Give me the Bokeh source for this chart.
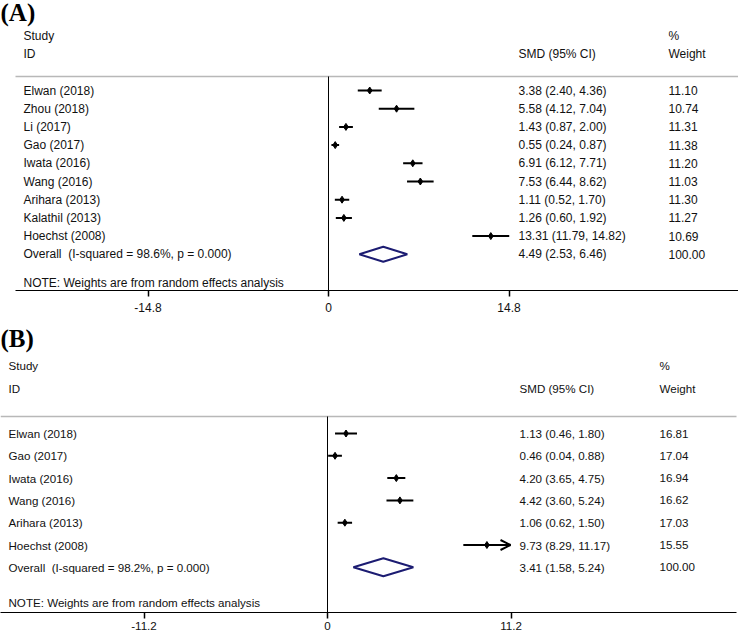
import numpy as np
from bokeh.plotting import figure
from bokeh.layouts import column
from bokeh.models import ColumnDataSource, Range1d, FixedTicker, Arrow, OpenHead
from bokeh.core.properties import value
from bokeh.embed import file_html
from bokeh.resources import INLINE

# ---------------- data ----------------
studies_a = ["Elwan (2018)", "Zhou (2018)", "Li (2017)", "Gao (2017)", "Iwata (2016)",
             "Wang (2016)", "Arihara (2013)", "Kalathil (2013)", "Hoechst (2008)"]
smd_a = [3.38, 5.58, 1.43, 0.55, 6.91, 7.53, 1.11, 1.26, 13.31]
lo_a = [2.40, 4.12, 0.87, 0.24, 6.12, 6.44, 0.52, 0.60, 11.79]
hi_a = [4.36, 7.04, 2.00, 0.87, 7.71, 8.62, 1.70, 1.92, 14.82]
wt_a = ["11.10", "10.74", "11.31", "11.38", "11.20", "11.03", "11.30", "11.27", "10.69"]
overall_a = (4.49, 2.53, 6.46)
overall_label_a = "Overall\u00a0\u00a0(I-squared = 98.6%, p = 0.000)"
ticks_a = [-14.8, 0, 14.8]
tick_labels_a = ["-14.8", "0", "14.8"]
arrow_a = [False] * 9

studies_b = ["Elwan (2018)", "Gao (2017)", "Iwata (2016)", "Wang (2016)",
             "Arihara (2013)", "Hoechst (2008)"]
smd_b = [1.13, 0.46, 4.20, 4.42, 1.06, 9.73]
lo_b = [0.46, 0.04, 3.65, 3.60, 0.62, 8.29]
hi_b = [1.80, 0.88, 4.75, 5.24, 1.50, 11.17]
wt_b = ["16.81", "17.04", "16.94", "16.62", "17.03", "15.55"]
overall_b = (3.41, 1.58, 5.24)
overall_label_b = "Overall\u00a0\u00a0(I-squared = 98.2%, p = 0.000)"
ticks_b = [-11.2, 0, 11.2]
tick_labels_b = ["-11.2", "0", "11.2"]
arrow_b = [False, False, False, False, False, True]

FONT = "Liberation Sans"
NAVY = "#1c1c72"
W = 738


def panel(tag, studies, smd, lo, hi, wt, overall, overall_label, ticks, tick_labels, arrows,
          geo):
    zero_px, scale = geo["zero_px"], geo["scale"]

    def px(p):
        return (p - zero_px) / scale

    fig_h = geo["fig_h"]
    top, bottom = geo["frame_top"], geo["frame_bottom"]
    p = figure(width=W, height=fig_h, output_backend="svg", toolbar_location=None,
               x_range=Range1d(px(0), px(W)),
               y_range=Range1d(bottom, top), y_axis_location=None,
               min_border_left=0, min_border_right=0, min_border_top=0,
               min_border_bottom=geo["border_bottom"])
    p.grid.visible = False
    p.outline_line_color = None
    p.background_fill_color = "white"
    p.border_fill_color = "white"

    fs = geo["fs"]
    n = len(studies)
    ys = geo["row0"] + geo["step"] * np.arange(n)
    y_over = geo["row0"] + geo["step"] * n

    # header
    x_study = px(geo["x_study"])
    x_smd = px(geo["x_smd"])
    x_wt = px(geo["x_wt"])
    p.text(x=[px(0)], y=[geo["tag_y"]], text=[tag],
           text_font=value("Liberation Serif"), text_font_style="bold",
           text_font_size="25px", text_baseline="middle", text_align="left", text_color="black")
    p.text(x=[x_study, x_study, x_smd, x_wt, x_wt],
           y=[geo["h1"], geo["h2"], geo["h2"], geo["h1"], geo["h2"]],
           text=["Study", "ID", "SMD (95% CI)", "%", "Weight"],
           text_font=value(FONT), text_font_size=fs, text_baseline="middle",
           text_align="left", text_color="#111111")

    # separator line and zero line
    p.segment(x0=[px(geo["line_left"])], x1=[px(geo["line_right"])],
              y0=[geo["sep"]], y1=[geo["sep"]], line_color="#b8b8b8", line_width=1.5)
    p.segment(x0=[0], x1=[0], y0=[geo["sep"]], y1=[bottom], line_color="black", line_width=1)

    # rows text
    ci_txt = ["%.2f (%.2f, %.2f)" % (a, b, c) for a, b, c in zip(smd, lo, hi)]
    p.text(x=[x_study] * (n + 2), y=list(ys) + [y_over, geo["note"]],
           text=list(studies) + [overall_label, "NOTE: Weights are from random effects analysis"],
           text_font=value(FONT), text_font_size=fs, text_baseline="middle",
           text_align="left", text_color="#111111")
    p.text(x=[x_smd] * (n + 1), y=list(ys) + [y_over],
           text=ci_txt + ["%.2f (%.2f, %.2f)" % overall],
           text_font=value(FONT), text_font_size=fs, text_baseline="middle",
           text_align="left", text_color="#111111")
    p.text(x=[x_wt] * (n + 1), y=list(ys) + [y_over], text=list(wt) + ["100.00"],
           text_font=value(FONT), text_font_size=fs, text_baseline="middle",
           text_align="left", text_color="#111111")

    # CIs
    seg_idx = [i for i in range(n) if not arrows[i]]
    arr_idx = [i for i in range(n) if arrows[i]]
    p.segment(x0=[lo[i] for i in seg_idx], x1=[hi[i] for i in seg_idx],
              y0=[ys[i] for i in seg_idx], y1=[ys[i] for i in seg_idx],
              line_color="black", line_width=2)
    if arr_idx:
        src = ColumnDataSource(dict(x0=[lo[i] for i in arr_idx], x1=[hi[i] for i in arr_idx],
                                    y=[ys[i] for i in arr_idx]))
        p.add_layout(Arrow(source=src, x_start="x0", x_end="x1", y_start="y", y_end="y",
                           line_color="black", line_width=2,
                           end=OpenHead(size=10, line_width=2, line_color="black")))
    p.scatter(x=smd, y=ys, marker="diamond", size=7, fill_color="black", line_color="black")

    # overall diamond
    est, olo, ohi = overall
    hh = geo["dia_h"]
    p.patch(x=[olo, est, ohi, est], y=[y_over, y_over - hh, y_over, y_over + hh],
            fill_color=None, line_color=NAVY, line_width=2)

    # axis
    ax = p.xaxis[0]
    ax.ticker = FixedTicker(ticks=ticks)
    ax.major_label_overrides = {t: l for t, l in zip(ticks, tick_labels)}
    ax.bounds = (px(geo["line_left"]), px(geo["line_right"]))
    ax.minor_tick_line_color = None
    ax.major_tick_in = 0
    ax.major_tick_out = 6
    ax.major_tick_line_width = 1.5
    ax.axis_line_width = 1.2
    ax.major_label_standoff = geo["standoff"]
    ax.major_label_text_font = FONT
    ax.major_label_text_font_size = fs
    ax.major_label_text_color = "#111111"
    return p


geo_a = dict(zero_px=328, scale=180.5 / 14.8, fig_h=318, frame_top=0,
             frame_bottom=290, border_bottom=28, fs="12px",
             x_study=23, x_smd=518, x_wt=668, tag_y=12, h1=35, h2=53, sep=76,
             line_left=15, line_right=738, row0=90, step=18.2, note=282, dia_h=7.5,
             standoff=6)
geo_b = dict(zero_px=327, scale=367 / 22.4, fig_h=316, frame_top=318,
             frame_bottom=612, border_bottom=22, fs="11.6px",
             x_study=8, x_smd=519, x_wt=659, tag_y=338, h1=365, h2=388, sep=416,
             line_left=0, line_right=736, row0=433, step=22.3, note=602, dia_h=9,
             standoff=3)

pa = panel("(A)", studies_a, smd_a, lo_a, hi_a, wt_a, overall_a, overall_label_a,
           ticks_a, tick_labels_a, arrow_a, geo_a)
pb = panel("(B)", studies_b, smd_b, lo_b, hi_b, wt_b, overall_b, overall_label_b,
           ticks_b, tick_labels_b, arrow_b, geo_b)

layout = column(pa, pb, spacing=0)
open("out.html", "w").write(file_html(layout, INLINE))
